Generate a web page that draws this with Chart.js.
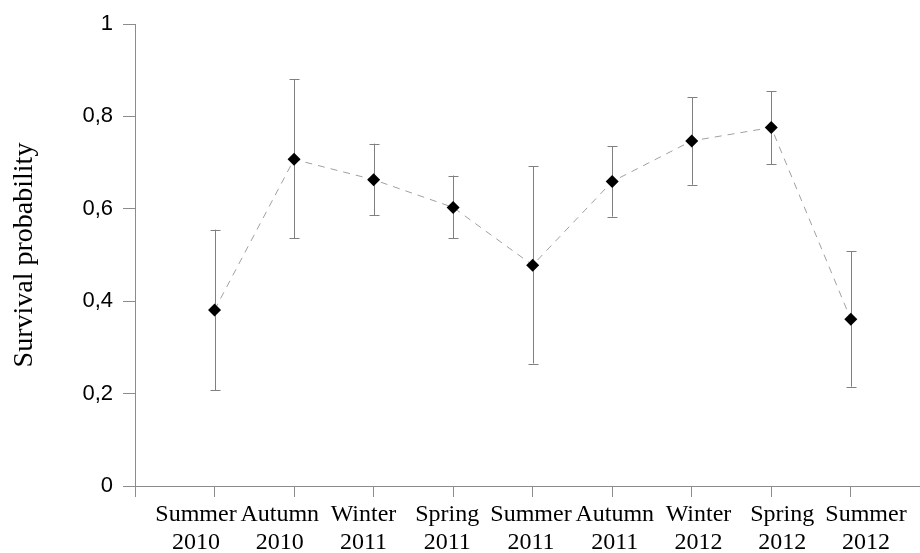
<!DOCTYPE html>
<html>
<head>
<meta charset="utf-8">
<script src="https://cdn.jsdelivr.net/npm/chart.js@4.4.1/dist/chart.umd.min.js"></script>
<style>
  html, body { margin: 0; padding: 0; background: #fff; }
  #wrap { width: 920px; height: 553px; position: relative; }
</style>
</head>
<body>
<div id="wrap"><canvas id="chart-data"></canvas></div>
<script>
var seasons = ["Summer", "Autumn", "Winter", "Spring", "Summer", "Autumn", "Winter", "Spring", "Summer"];
var years = ["2010", "2010", "2011", "2011", "2011", "2011", "2012", "2012", "2012"];
var survival = [0.381, 0.707, 0.663, 0.603, 0.478, 0.659, 0.747, 0.776, 0.361];
var upper = [0.555, 0.880, 0.741, 0.672, 0.692, 0.735, 0.842, 0.855, 0.508];
var lower = [0.207, 0.536, 0.586, 0.536, 0.265, 0.583, 0.652, 0.697, 0.215];
var yTicks = [0, 0.2, 0.4, 0.6, 0.8, 1];

var points = survival.map(function (v, i) { return { x: i + 1, y: v }; });

// draws the vertical error bars with small caps
var errorBars = {
    id: "errorBars",
    beforeDatasetsDraw: function (chart) {
        var ctx = chart.ctx;
        var xs = chart.scales.x, ys = chart.scales.y;
        ctx.save();
        ctx.strokeStyle = "#808080";
        ctx.lineWidth = 1;
        for (var i = 0; i < survival.length; i++) {
            var px = Math.round(xs.getPixelForValue(i + 1)) + 0.5;
            var top = ys.getPixelForValue(upper[i]);
            var bot = ys.getPixelForValue(lower[i]);
            ctx.beginPath();
            ctx.moveTo(px, top);
            ctx.lineTo(px, bot);
            ctx.moveTo(px - 5, Math.round(top) + 0.5);
            ctx.lineTo(px + 5, Math.round(top) + 0.5);
            ctx.moveTo(px - 5, Math.round(bot) + 0.5);
            ctx.lineTo(px + 5, Math.round(bot) + 0.5);
            ctx.stroke();
        }
        ctx.restore();
    },
};

var serif = "'Liberation Serif', 'Times New Roman', serif";

var ctx = document.getElementById("chart-data").getContext("2d");
var chart = new Chart(ctx, {
    type: "scatter",
    data: {
        datasets: [
            {
                label: "Survival",
                data: points,
                showLine: true,
                borderColor: "#a0a0a0",
                borderWidth: 1,
                borderDash: [7, 6],
                pointStyle: "rectRot",
                pointRadius: 6.5,
                pointHoverRadius: 6.5,
                pointBackgroundColor: "#000",
                pointBorderColor: "#000",
                pointBorderWidth: 0,
            },
        ],
    },
    options: {
        responsive: true,
        maintainAspectRatio: false,
        animation: false,
        layout: { autoPadding: false, padding: { top: 24, right: 0, left: 0, bottom: 0 } },
        plugins: {
            legend: { display: false },
            tooltip: { enabled: false },
        },
        scales: {
            x: {
                type: "linear",
                min: 0,
                max: 9.87,
                weight: 0,
                afterBuildTicks: function (scale) {
                    scale.ticks = [0, 1, 2, 3, 4, 5, 6, 7, 8, 9].map(function (v) { return { value: v }; });
                },
                afterFit: function (scale) {
                    scale.height = 11;
                    scale.paddingRight = 0;
                    scale.paddingLeft = 0;
                },
                border: { color: "#8c8c8c", width: 1 },
                grid: {
                    drawOnChartArea: false,
                    drawTicks: true,
                    tickLength: 11,
                    color: "#8c8c8c",
                },
                ticks: { display: false },
            },
            // category labels sit on their own, slightly wider spacing
            xLabels: {
                type: "linear",
                position: "bottom",
                axis: "x",
                min: 0.272,
                max: 9.645,
                weight: 1,
                afterBuildTicks: function (scale) {
                    scale.ticks = seasons.map(function (s, i) { return { value: i + 1 }; });
                },
                afterFit: function (scale) {
                    scale.height = 56;
                    scale.paddingRight = 0;
                    scale.paddingLeft = 0;
                },
                border: { display: false },
                grid: { display: false, drawTicks: false },
                ticks: {
                    autoSkip: false,
                    maxRotation: 0,
                    padding: 4,
                    color: "#000",
                    font: { family: serif, size: 24, lineHeight: 1.17 },
                    callback: function (value) {
                        var i = Math.round(value) - 1;
                        if (i < 0 || i >= seasons.length) return "";
                        return [seasons[i], years[i]];
                    },
                },
            },
            y: {
                min: 0,
                max: 1,
                afterBuildTicks: function (scale) {
                    scale.ticks = yTicks.map(function (v) { return { value: v }; });
                },
                afterFit: function (scale) { scale.width = 135; },
                border: { color: "#8c8c8c", width: 1 },
                grid: {
                    drawOnChartArea: false,
                    drawTicks: true,
                    tickLength: 12,
                    color: "#8c8c8c",
                },
                title: {
                    display: true,
                    text: "Survival probability",
                    color: "#000",
                    padding: { top: 8, bottom: 0 },
                    font: { family: serif, size: 28, lineHeight: 1.2 },
                },
                ticks: {
                    padding: 10,
                    color: "#000",
                    font: { family: "'Liberation Sans', Arial, sans-serif", size: 22 },
                    callback: function (value) {
                        if (value === 0 || value === 1) return String(value);
                        return value.toFixed(1).replace(".", ",");
                    },
                },
            },
        },
    },
    plugins: [errorBars],
});
</script>
</body>
</html>
